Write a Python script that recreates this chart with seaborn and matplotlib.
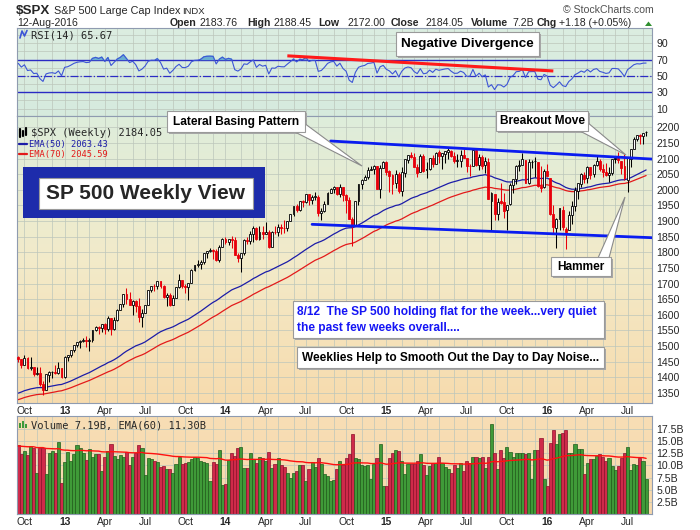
import numpy as np
import pandas as pd
import matplotlib
matplotlib.use("Agg")
import matplotlib.pyplot as plt
import seaborn as sns
from matplotlib.patches import Rectangle, Polygon
from matplotlib.lines import Line2D

sns.set_style("white")
plt.rcParams["font.family"] = ["Liberation Sans", "DejaVu Sans"]

# weekly bars, Friday 21-Sep-2012 .. Friday 12-Aug-2016
first_week = "2012-09-21"
prev_close = 1465.8  # close of the week before the first bar

opens = [
    # 2012
    1465.0, 1459.5, 1440.9, 1461.0, 1428.8, 1433.2, 1411.3, 1414.0, 1380.0, 1359.9, 1409.0, 1416.3, 1418.0, 1413.5, 1430.0,
    # 2013
    1402.4, 1466.5, 1472.1, 1486.0, 1503.0, 1513.0, 1517.9, 1519.8, 1515.6, 1518.2, 1551.2, 1560.7, 1556.9, 1569.2, 1553.3,
    1588.8, 1555.3, 1582.3, 1614.4, 1633.7, 1667.5, 1649.6, 1631.7, 1643.4, 1626.7, 1592.4, 1606.3, 1631.9, 1680.2, 1692.1,
    1691.7, 1709.7, 1691.4, 1655.8, 1663.5, 1633.0, 1655.2, 1688.0, 1709.9, 1691.8, 1690.5, 1703.2, 1744.5, 1759.8, 1761.6,
    1770.6, 1798.2, 1804.8, 1805.8, 1805.1, 1775.3, 1818.3,
    # 2014
    1841.4, 1831.4, 1842.4, 1838.7, 1790.3, 1782.7, 1797.0, 1838.6, 1836.3, 1859.5, 1878.0, 1841.1, 1866.5, 1857.6, 1865.1,
    1815.7, 1864.9, 1863.4, 1881.1, 1878.5, 1877.9, 1900.5, 1923.6, 1949.4, 1936.2, 1962.9, 1961.0, 1985.3, 1967.6, 1978.2,
    1978.3, 1925.2, 1931.6, 1955.1, 1988.4, 2003.4, 2007.7, 1985.5, 2010.4, 1982.9, 1967.9, 1906.1, 1886.8, 1964.6, 2018.2,
    2032.0, 2039.7, 2063.5, 2065.8, 2074.8, 2002.9, 2069.3,
    # 2015
    2088.5, 2058.9, 2046.1, 2020.8, 2050.4, 1996.7, 2053.5, 2096.5, 2109.8, 2105.2, 2072.3, 2055.4, 2107.0, 2064.1, 2064.9,
    2102.0, 2082.1, 2119.3, 2108.3, 2116.0, 2122.3, 2125.3, 2108.6, 2092.3, 2091.3, 2110.6, 2101.5, 2075.4, 2077.5, 2126.6,
    2078.2, 2104.5, 2078.1, 2089.7, 1965.2, 1986.7, 1921.8, 1963.1, 1960.8, 1934.6, 1954.3, 2013.7, 2033.5, 2075.1, 2080.8,
    2096.6, 2022.1, 2088.8, 2090.9, 2090.4, 2013.4, 2010.3, 2060.6,
    # 2016
    2038.2, 1923.7, 1878.9, 1906.3, 1936.9, 1873.3, 1871.4, 1917.8, 1947.1, 1996.1, 2019.3, 2047.9, 2037.9, 2073.2, 2050.2,
    2078.8, 2091.6, 2067.2, 2058.0, 2047.2, 2054.5, 2100.1, 2100.8, 2091.8, 2075.6, 2030.0, 2099.3, 2131.7, 2162.0, 2173.7,
    2173.1, 2183.8,
]
highs = [
    # 2012
    1467.0, 1460.0, 1470.9, 1464.0, 1464.0, 1433.8, 1434.3, 1433.0, 1388.8, 1409.2, 1419.7, 1420.9, 1438.6, 1448.0, 1430.2,
    # 2013
    1467.9, 1472.3, 1486.0, 1503.3, 1514.4, 1518.3, 1524.7, 1530.9, 1525.3, 1552.5, 1563.6, 1564.0, 1570.3, 1573.7, 1597.4,
    1588.8, 1592.6, 1618.5, 1635.0, 1667.5, 1687.2, 1674.2, 1646.5, 1648.7, 1654.2, 1620.1, 1632.1, 1680.2, 1693.1, 1698.4,
    1709.7, 1709.7, 1696.8, 1669.5, 1669.7, 1664.8, 1689.0, 1729.9, 1710.0, 1698.1, 1703.4, 1745.3, 1759.8, 1775.2, 1774.5,
    1798.2, 1804.8, 1813.6, 1810.3, 1809.0, 1823.8, 1844.9,
    # 2014
    1849.4, 1843.2, 1850.8, 1849.3, 1798.8, 1798.0, 1841.6, 1847.5, 1867.9, 1883.6, 1881.0, 1883.9, 1884.0, 1897.3, 1872.4,
    1869.6, 1884.9, 1891.3, 1889.1, 1902.2, 1901.3, 1924.0, 1949.4, 1955.6, 1963.9, 1968.2, 1985.6, 1985.6, 1983.9, 1991.4,
    1984.6, 1942.9, 1964.0, 1991.4, 2005.0, 2011.2, 2007.7, 2019.3, 2010.4, 1985.2, 1977.8, 1912.1, 1965.3, 2018.2, 2034.3,
    2046.2, 2071.5, 2075.8, 2079.5, 2075.8, 2077.9, 2093.6,
    # 2015
    2093.5, 2064.4, 2049.3, 2064.6, 2057.6, 2072.4, 2097.0, 2110.6, 2119.6, 2117.5, 2083.5, 2113.9, 2114.9, 2088.2, 2102.6,
    2111.9, 2120.9, 2125.9, 2117.7, 2123.9, 2134.7, 2126.2, 2121.9, 2115.0, 2126.7, 2130.0, 2101.5, 2081.0, 2128.7, 2132.8,
    2114.2, 2112.7, 2104.2, 2102.9, 1993.5, 1986.7, 1975.0, 2020.9, 1989.4, 1951.4, 2020.1, 2033.5, 2079.7, 2094.3, 2116.5,
    2096.6, 2097.1, 2094.1, 2104.3, 2090.4, 2076.7, 2067.7, 2081.6,
    # 2016
    2038.2, 1950.3, 1908.9, 1940.2, 1947.2, 1881.6, 1930.7, 1962.9, 2009.1, 2022.4, 2052.4, 2056.6, 2075.1, 2073.2, 2083.4,
    2111.1, 2099.9, 2083.4, 2084.9, 2071.9, 2099.1, 2106.4, 2120.6, 2091.8, 2113.3, 2103.0, 2131.7, 2169.0, 2175.6, 2177.1,
    2182.9, 2188.5,
]
lows = [
    # 2012
    1449.9, 1430.5, 1440.9, 1425.5, 1423.0, 1403.3, 1406.0, 1373.0, 1343.4, 1359.9, 1385.4, 1398.2, 1411.9, 1411.9, 1398.1,
    # 2013
    1398.1, 1451.6, 1463.8, 1482.2, 1496.3, 1495.0, 1513.6, 1497.3, 1485.0, 1512.3, 1547.4, 1538.6, 1546.2, 1539.5, 1548.6,
    1536.0, 1552.6, 1581.3, 1614.4, 1623.7, 1635.5, 1630.7, 1598.2, 1608.1, 1577.7, 1560.3, 1604.6, 1631.7, 1672.8, 1676.0,
    1681.9, 1684.9, 1654.2, 1627.5, 1627.5, 1633.0, 1655.2, 1686.1, 1687.1, 1670.4, 1646.5, 1700.7, 1740.5, 1752.7, 1746.2,
    1761.6, 1780.9, 1800.5, 1779.1, 1772.3, 1767.8, 1818.3,
    # 2014
    1827.7, 1823.7, 1815.0, 1790.3, 1770.5, 1737.9, 1791.8, 1826.9, 1825.9, 1834.4, 1839.6, 1839.5, 1842.8, 1857.6, 1814.4,
    1815.7, 1859.7, 1850.6, 1859.8, 1862.4, 1868.1, 1900.5, 1915.9, 1930.0, 1933.1, 1944.7, 1958.9, 1952.9, 1955.6, 1965.8,
    1916.4, 1904.8, 1928.5, 1955.1, 1988.4, 1990.1, 1983.9, 1978.5, 1965.2, 1926.0, 1906.0, 1820.7, 1886.8, 1951.4, 2001.0,
    2030.4, 2034.5, 2062.8, 2049.6, 2002.3, 1972.6, 2069.3,
    # 2015
    2046.0, 1992.4, 1988.1, 2004.5, 1989.2, 1980.9, 2041.9, 2085.4, 2103.0, 2071.3, 2039.7, 2055.4, 2056.4, 2039.1, 2062.8,
    2072.4, 2082.1, 2085.7, 2067.9, 2085.0, 2099.2, 2103.5, 2085.7, 2072.1, 2072.5, 2101.3, 2056.3, 2044.0, 2077.5, 2077.6,
    2063.5, 2067.9, 2052.1, 1970.9, 1867.0, 1903.1, 1903.6, 1953.1, 1908.8, 1871.9, 1951.4, 1990.7, 2017.2, 2061.0, 2080.8,
    2022.2, 2019.4, 2070.3, 2042.4, 2008.8, 1993.3, 2005.9, 2043.6,
    # 2016
    1918.5, 1857.8, 1812.3, 1872.7, 1872.7, 1810.1, 1871.4, 1891.0, 1931.8, 1969.3, 2007.5, 2022.5, 2021.9, 2033.8, 2039.7,
    2077.5, 2060.6, 2039.5, 2043.1, 2025.9, 2048.4, 2085.1, 2085.7, 2050.4, 2032.1, 1991.7, 2074.0, 2131.7, 2154.8, 2147.6,
    2147.6, 2172.0,
]
closes = [
    # 2012
    1460.2, 1440.7, 1460.9, 1428.6, 1433.2, 1411.9, 1414.2, 1379.9, 1359.9, 1409.2, 1416.2, 1418.1, 1413.6, 1430.2, 1402.4,
    # 2013
    1466.5, 1472.1, 1486.0, 1503.0, 1513.2, 1517.9, 1519.8, 1515.6, 1518.2, 1551.2, 1560.7, 1556.9, 1569.2, 1553.3, 1588.9,
    1555.3, 1582.2, 1614.4, 1633.7, 1667.5, 1649.6, 1630.7, 1643.4, 1626.7, 1592.4, 1606.3, 1631.9, 1680.2, 1692.1, 1691.7,
    1709.7, 1691.4, 1655.8, 1663.5, 1633.0, 1655.2, 1688.0, 1709.9, 1691.8, 1690.5, 1703.2, 1744.5, 1759.8, 1761.6, 1770.6,
    1798.2, 1804.8, 1805.8, 1805.1, 1775.3, 1818.3, 1841.4,
    # 2014
    1831.4, 1842.4, 1838.7, 1790.3, 1782.6, 1797.0, 1838.6, 1836.3, 1859.5, 1878.0, 1841.1, 1866.5, 1857.6, 1865.1, 1815.7,
    1864.9, 1863.4, 1881.1, 1878.5, 1877.9, 1900.5, 1923.6, 1949.4, 1936.2, 1962.9, 1961.0, 1985.4, 1967.6, 1978.2, 1978.3,
    1925.2, 1931.6, 1955.1, 1988.4, 2003.4, 2007.7, 1985.5, 2010.4, 1982.9, 1967.9, 1906.1, 1886.8, 1964.6, 2018.1, 2031.9,
    2039.8, 2063.5, 2067.6, 2075.4, 2002.3, 2070.7, 2088.8,
    # 2015
    2058.2, 2044.8, 2019.4, 2051.8, 1995.0, 2055.5, 2097.0, 2110.3, 2104.5, 2071.3, 2053.4, 2108.1, 2061.0, 2067.0, 2102.1,
    2081.2, 2117.7, 2108.3, 2116.1, 2122.7, 2126.1, 2107.4, 2092.8, 2094.1, 2110.0, 2101.5, 2076.8, 2076.6, 2126.6, 2079.7,
    2103.8, 2077.6, 2091.5, 1970.9, 1988.9, 1921.2, 1961.1, 1958.0, 1931.3, 1951.4, 2014.9, 2033.1, 2075.2, 2079.4, 2099.2,
    2023.0, 2089.2, 2090.1, 2091.7, 2012.4, 2005.6, 2061.0, 2043.9,
    # 2016
    1922.0, 1880.3, 1906.9, 1940.2, 1880.1, 1864.8, 1917.8, 1948.1, 2000.0, 2022.2, 2049.6, 2035.9, 2072.8, 2047.6, 2080.7,
    2091.6, 2065.3, 2057.1, 2046.6, 2052.3, 2099.1, 2099.1, 2096.1, 2071.2, 2037.4, 2103.0, 2129.9, 2161.7, 2175.0, 2173.6,
    2182.9, 2184.1,
]
# weekly volume, billions of shares
volumes = [
    # 2012
    14.2, 12.4, 13.0, 12.1, 14.0, 13.6, 8.5, 13.7, 13.7, 8.3, 12.5, 13.0, 12.5, 14.9, 6.4,
    # 2013
    10.8, 12.8, 10.9, 12.4, 14.2, 13.7, 12.5, 11.1, 13.5, 11.8, 12.4, 12.3, 8.9, 11.8, 13.0,
    14.5, 12.0, 11.4, 12.2, 11.8, 12.8, 10.0, 11.8, 12.5, 14.2, 13.6, 8.0, 11.6, 11.4, 11.0,
    10.7, 9.7, 9.9, 9.3, 9.2, 8.5, 10.3, 11.7, 10.3, 10.6, 10.8, 11.4, 11.8, 11.6, 10.9,
    10.7, 10.6, 6.7, 10.7, 10.3, 13.2, 6.0,
    # 2014
    6.2, 11.1, 12.5, 12.0, 13.7, 13.9, 9.5, 9.4, 12.5, 11.3, 10.6, 11.8, 11.6, 11.0, 12.8,
    9.5, 10.3, 11.5, 10.2, 9.7, 8.5, 7.4, 8.5, 8.8, 10.2, 10.0, 6.7, 9.2, 10.8, 9.7,
    11.5, 10.3, 8.3, 7.8, 6.7, 7.1, 9.2, 11.0, 10.1, 11.5, 12.3, 16.5, 11.5, 11.3, 10.2,
    9.9, 10.2, 7.2, 10.3, 11.6, 14.5, 5.7,
    # 2015
    5.7, 11.6, 12.6, 13.1, 13.0, 11.0, 8.3, 10.3, 10.3, 10.3, 11.0, 12.3, 10.2, 8.1, 9.9,
    10.6, 10.5, 11.8, 10.5, 9.7, 9.2, 8.5, 10.2, 9.5, 10.5, 8.8, 10.9, 10.5, 11.8, 11.8,
    11.6, 11.8, 9.5, 11.8, 18.6, 12.6, 9.2, 13.1, 11.6, 13.9, 12.8, 11.7, 12.6, 12.5, 12.5,
    12.3, 12.5, 7.3, 13.1, 13.1, 15.6, 7.3, 5.8,
    # 2016
    14.7, 17.3, 14.4, 16.5, 16.6, 17.3, 12.6, 12.6, 14.5, 13.5, 13.5, 8.3, 10.6, 11.4, 11.4,
    12.0, 12.4, 11.8, 10.9, 11.6, 9.9, 9.0, 9.9, 11.6, 12.6, 13.9, 9.0, 10.3, 10.1, 11.5,
    10.9, 7.19,
]

ema50_seed, ema70_seed = 1345.0, 1325.0
vol_ema_seed = 14.0
rsi_seed_gain, rsi_seed_loss = 14.0, 7.0

# hand-drawn lines (bar index, value)
upper_trend = ([101, 205.3], [2156, 2098])
lower_trend = ([95, 205.0], [1889.5, 1846.7])
divergence = ([87, 173], [74.5, 56.0])

price_ticks = list(range(1350, 2201, 50))
rsi_ticks = [10, 30, 50, 70, 90]
vol_ticks = [2.5, 5.0, 7.5, 10.0, 12.5, 15.0, 17.5]

df = pd.DataFrame({"open": opens, "high": highs, "low": lows,
                   "close": closes, "volume": volumes})
df["date"] = pd.date_range(first_week, periods=len(df), freq="W-FRI")
df["idx"] = np.arange(len(df))
prev = np.r_[prev_close, df["close"].values[:-1]]
df["down"] = df["close"].values < prev


def ema(values, n, seed):
    out, e, a = [], seed, 2.0 / (n + 1)
    for v in values:
        e += a * (v - e)
        out.append(e)
    return np.array(out)


df["ema50"] = ema(df["close"], 50, ema50_seed)
df["ema70"] = ema(df["close"], 70, ema70_seed)
df["vol_ema"] = ema(df["volume"], 60, vol_ema_seed)

g, l = rsi_seed_gain, rsi_seed_loss
rsi = []
for d in np.diff(np.r_[prev_close, df["close"].values]):
    g = (g * 13 + max(d, 0)) / 14
    l = (l * 13 + max(-d, 0)) / 14
    rsi.append(100 - 100 / (1 + g / l))
df["rsi"] = rsi

# month positions (first bar of each month)
firsts = df.groupby([df.date.dt.year, df.date.dt.month])["idx"].min()
firsts = [i for i in firsts.values if df.date[i].day <= 7]
q_idx = [i for i in firsts if df.date[i].month in (1, 4, 7, 10)]
q_lab = [df.date[i].strftime("%y") if df.date[i].month == 1 else df.date[i].strftime("%b") for i in q_idx]

W, H = 700, 530
L, R = 17, 652
X_LO, X_HI = -0.4, 204.9
GRID = "#bcc6bb"
SPINE = "#8f9bb0"

fig = plt.figure(figsize=(W / 100, H / 100), dpi=100)


def axes_px(top, bottom):
    return fig.add_axes([L / W, 1 - bottom / H, (R - L) / W, (bottom - top) / H])


def gradient(ax, stops):
    cols = np.array(stops)
    t = np.linspace(0, 1, 200)
    pos = np.linspace(0, 1, len(cols))
    img = np.stack([np.interp(t, pos, cols[:, k]) for k in range(3)], axis=1)[:, None, :]
    x0, x1 = ax.get_xlim()
    y0, y1 = ax.get_ylim()
    ax.imshow(img, extent=[x0, x1, y0, y1], aspect="auto", origin="upper",
              zorder=0, interpolation="bilinear")


def setup(ax, ylim, ticks, labels, hgrid, stops):
    ax.set_xlim(X_LO, X_HI)
    ax.set_ylim(*ylim)
    gradient(ax, stops)
    for y in hgrid:
        ax.axhline(y, color=GRID, lw=0.5, zorder=1)
    for x in firsts:
        ax.axvline(x, color=GRID, lw=0.5, zorder=1)
    ax.yaxis.tick_right()
    ax.set_yticks(ticks)
    ax.set_yticklabels(labels)
    ax.tick_params(axis="y", length=0, pad=3, labelsize=7.6)
    ax.set_xticks(q_idx)
    ax.set_xticklabels(q_lab)
    ax.tick_params(axis="x", length=0, pad=2, labelsize=7.4)
    for t, lab in zip(ax.get_xticklabels(), q_lab):
        if lab.isdigit():
            t.set_fontweight("bold")
    for s in ax.spines.values():
        s.set_color(SPINE)
        s.set_linewidth(0.8)


ax_rsi = axes_px(28, 116)
ax_p = axes_px(116, 403)
ax_v = axes_px(416, 514)

setup(ax_rsi, (1, 108.5), rsi_ticks, [str(v) for v in rsi_ticks], range(10, 101, 10),
      [(0.86, 0.93, 0.88), (0.84, 0.92, 0.87)])
ax_rsi.tick_params(axis="x", labelbottom=False)
setup(ax_p, (1318, 2236), price_ticks, [str(v) for v in price_ticks], price_ticks,
      [(0.87, 0.93, 0.86), (0.95, 0.92, 0.79), (0.97, 0.86, 0.68)])
setup(ax_v, (0, 20.2), vol_ticks, [f"{v:.1f}B" for v in vol_ticks], vol_ticks,
      [(0.97, 0.87, 0.71), (0.97, 0.85, 0.67)])

# ---- RSI panel
ax_rsi.axhline(70, color="#2b2bc4", lw=1.0, zorder=2)
ax_rsi.axhline(30, color="#2b2bc4", lw=1.0, zorder=2)
ax_rsi.axhline(50, color="#2b2bc4", lw=0.9, ls="-.", zorder=2)
ax_rsi.fill_between(df["idx"], 70, df["rsi"], where=df["rsi"] > 70, interpolate=True,
                    color="#6aaed0", zorder=2)
sns.lineplot(data=df, x="idx", y="rsi", color="#3d55d6", lw=0.8, ax=ax_rsi, legend=False, zorder=3)
ax_rsi.plot(*divergence, color="#ff1a1a", lw=2.2, solid_capstyle="butt", zorder=4)

# ---- price panel
sns.lineplot(data=df, x="idx", y="ema50", color="#1c1ca8", lw=0.9, ax=ax_p, legend=False, zorder=2)
sns.lineplot(data=df, x="idx", y="ema70", color="#e31a1a", lw=0.9, ax=ax_p, legend=False, zorder=2)
cols = np.where(df["down"], "#e8000b", "#000000")
ax_p.vlines(df["idx"], df["low"], df["high"], colors=cols, lw=0.75, zorder=3)
body_lo = np.minimum(df["open"], df["close"])
body_h = np.maximum(np.abs(df["close"] - df["open"]), 1.2)
faces = [c if cl < op else "white" for c, cl, op in zip(cols, df["close"], df["open"])]
ax_p.bar(df["idx"], body_h, bottom=body_lo, width=0.62, color=faces, edgecolor=cols,
         linewidth=0.6, zorder=4)
ax_p.plot(*upper_trend, color="#0a1cf0", lw=2.0, zorder=5)
ax_p.plot(*lower_trend, color="#0a1cf0", lw=2.0, zorder=5)

# ---- volume panel
vcol = np.where(df["down"], "#cf2a4a", "#3f9a38")
vedge = np.where(df["down"], "#8c0f2a", "#1f5c1b")
ax_v.bar(df["idx"], df["volume"], width=1.0, color=vcol, edgecolor=vedge, linewidth=0.5, zorder=2)
sns.lineplot(data=df, x="idx", y="vol_ema", color="#ff1010", lw=1.0, ax=ax_v, legend=False, zorder=3)

for ax, yl in ((ax_rsi, (1, 108.5)), (ax_p, (1318, 2236)), (ax_v, (0, 20.2))):
    ax.set_xlim(X_LO, X_HI)
    ax.set_ylim(*yl)
    ax.set_xlabel("")
    ax.set_ylabel("")


# ---- figure-level text and callouts (pixel coordinates)
def fx(x):
    return x / W


def fy(y):
    return 1 - y / H


def txt(x, y, s, **kw):
    kw.setdefault("va", "baseline")
    kw.setdefault("zorder", 8)
    fig.text(fx(x), fy(y), s, **kw)


def rect(x0, y0, x1, y1, face, edge="none", lw=0.8, z=6):
    fig.add_artist(Rectangle((fx(x0), fy(y1)), (x1 - x0) / W, (y1 - y0) / H,
                             transform=fig.transFigure, facecolor=face,
                             edgecolor=edge, lw=lw, zorder=z))


def callout(x0, y0, x1, y1, text, size, color="black", pointer=None, lines=None):
    rect(x0 + 2, y0 + 2, x1 + 2, y1 + 2, "#a7a7a7", z=5)
    if pointer is not None:
        fig.add_artist(Polygon([(fx(a), fy(b)) for a, b in pointer], closed=True,
                               transform=fig.transFigure, facecolor="white",
                               edgecolor="#8a8a8a", lw=0.8, zorder=5.5))
    rect(x0, y0, x1, y1, "white", edge="#9a9a9a", z=6)
    if lines is None:
        txt((x0 + x1) / 2, (y0 + y1) / 2, text, ha="center", va="center",
            fontsize=size, fontweight="bold", color=color)
    else:
        for (tx, ty), s in zip(lines, text):
            txt(tx, ty, s, ha="left", va="center", fontsize=size, fontweight="bold", color=color)


# header
txt(16, 14, "$SPX", fontsize=9.6, fontweight="bold")
txt(54, 14, "S&P 500 Large Cap Index", fontsize=7.8)
txt(182, 14, "INDX", fontsize=6.8)
txt(563, 13, "\u00a9 StockCharts.com", fontsize=7.6, color="#505050")
txt(17, 26.5, "12-Aug-2016", fontsize=7.6)
header = [(170, "Open", "bold"), (199, "2183.76", "normal"), (247, "High", "bold"),
          (273, "2188.45", "normal"), (318, "Low", "bold"), (348, "2172.00", "normal"),
          (391, "Close", "bold"), (426, "2184.05", "normal"), (471, "Volume", "bold"),
          (512, "7.2B", "normal"), (537, "Chg", "bold"), (559, "+1.18 (+0.05%)", "normal")]
for x, s, w in header:
    txt(x, 26.5, s, fontsize=7.6, fontweight=w)
fig.add_artist(Polygon([(fx(645), fy(26)), (fx(652), fy(26)), (fx(648.5), fy(21.5))],
                       closed=True, transform=fig.transFigure, facecolor="#2f8f2f",
                       edgecolor="none", zorder=8))

# panel legends
mono = "DejaVu Sans Mono"
fig.add_artist(Line2D([fx(20), fx(22), fx(24.5), fx(27)], [fy(38), fy(31), fy(36), fy(30.5)],
                      transform=fig.transFigure, color="#3d55d6", lw=1.2, zorder=8))
txt(31, 38, "RSI(14) 65.67", fontsize=7.5, family=mono)
for x, a, b in ((20, 129, 137), (23, 131, 136), (26, 128, 135)):
    fig.add_artist(Line2D([fx(x), fx(x)], [fy(a), fy(b)], transform=fig.transFigure,
                          color="black", lw=1.6, zorder=8))
txt(31, 136, "$SPX (Weekly) 2184.05", fontsize=7.5, family=mono)
fig.add_artist(Line2D([fx(19), fx(27)], [fy(143.5), fy(143.5)], transform=fig.transFigure,
                      color="#1c1ca8", lw=1.6, zorder=8))
txt(29, 146.5, "EMA(50) 2063.43", fontsize=6.3, family=mono, color="#1c1ca8")
fig.add_artist(Line2D([fx(19), fx(27)], [fy(154), fy(154)], transform=fig.transFigure,
                      color="#e31a1a", lw=1.6, zorder=8))
txt(29, 157, "EMA(70) 2045.59", fontsize=6.3, family=mono, color="#e31a1a")
for x, a in ((20, 423), (23, 421), (26, 424)):
    rect(x - 1, a, x + 1, 428, "#3f9a38", z=8)
txt(31, 428, "Volume 7.19B, EMA(60) 11.30B", fontsize=7.5, family=mono)

# callout boxes
callout(396, 32, 539, 56, "Negative Divergence", 9.7)
callout(167, 111, 305, 132, "Lateral Basing Pattern", 8.6,
        pointer=[(293, 131), (304, 123), (362, 166)])
callout(496, 111, 588, 131, "Breakout Move", 8.6,
        pointer=[(578, 130), (587, 122), (626, 155)])
callout(551, 257, 611, 276, "Hammer", 8.6,
        pointer=[(598, 258), (609, 258), (625, 197)])
rect(23, 167, 265, 218, "#1d2cab", z=6)
rect(39, 178, 253, 209, "white", edge="#9a9a9a", z=6.5)
txt(146, 194, "SP 500 Weekly View", ha="center", va="center", fontsize=15, fontweight="bold")
callout(293, 301, 604, 338,
        ["8/12  The SP 500 holding flat for the week...very quiet", "the past few weeks overall...."],
        8.6, color="#1515f5", lines=[(297, 312), (297, 328)])
callout(297, 347, 604, 368, "Weeklies Help to Smooth Out the Day to Day Noise...", 8.6)

fig.savefig("out.png", dpi=100)
